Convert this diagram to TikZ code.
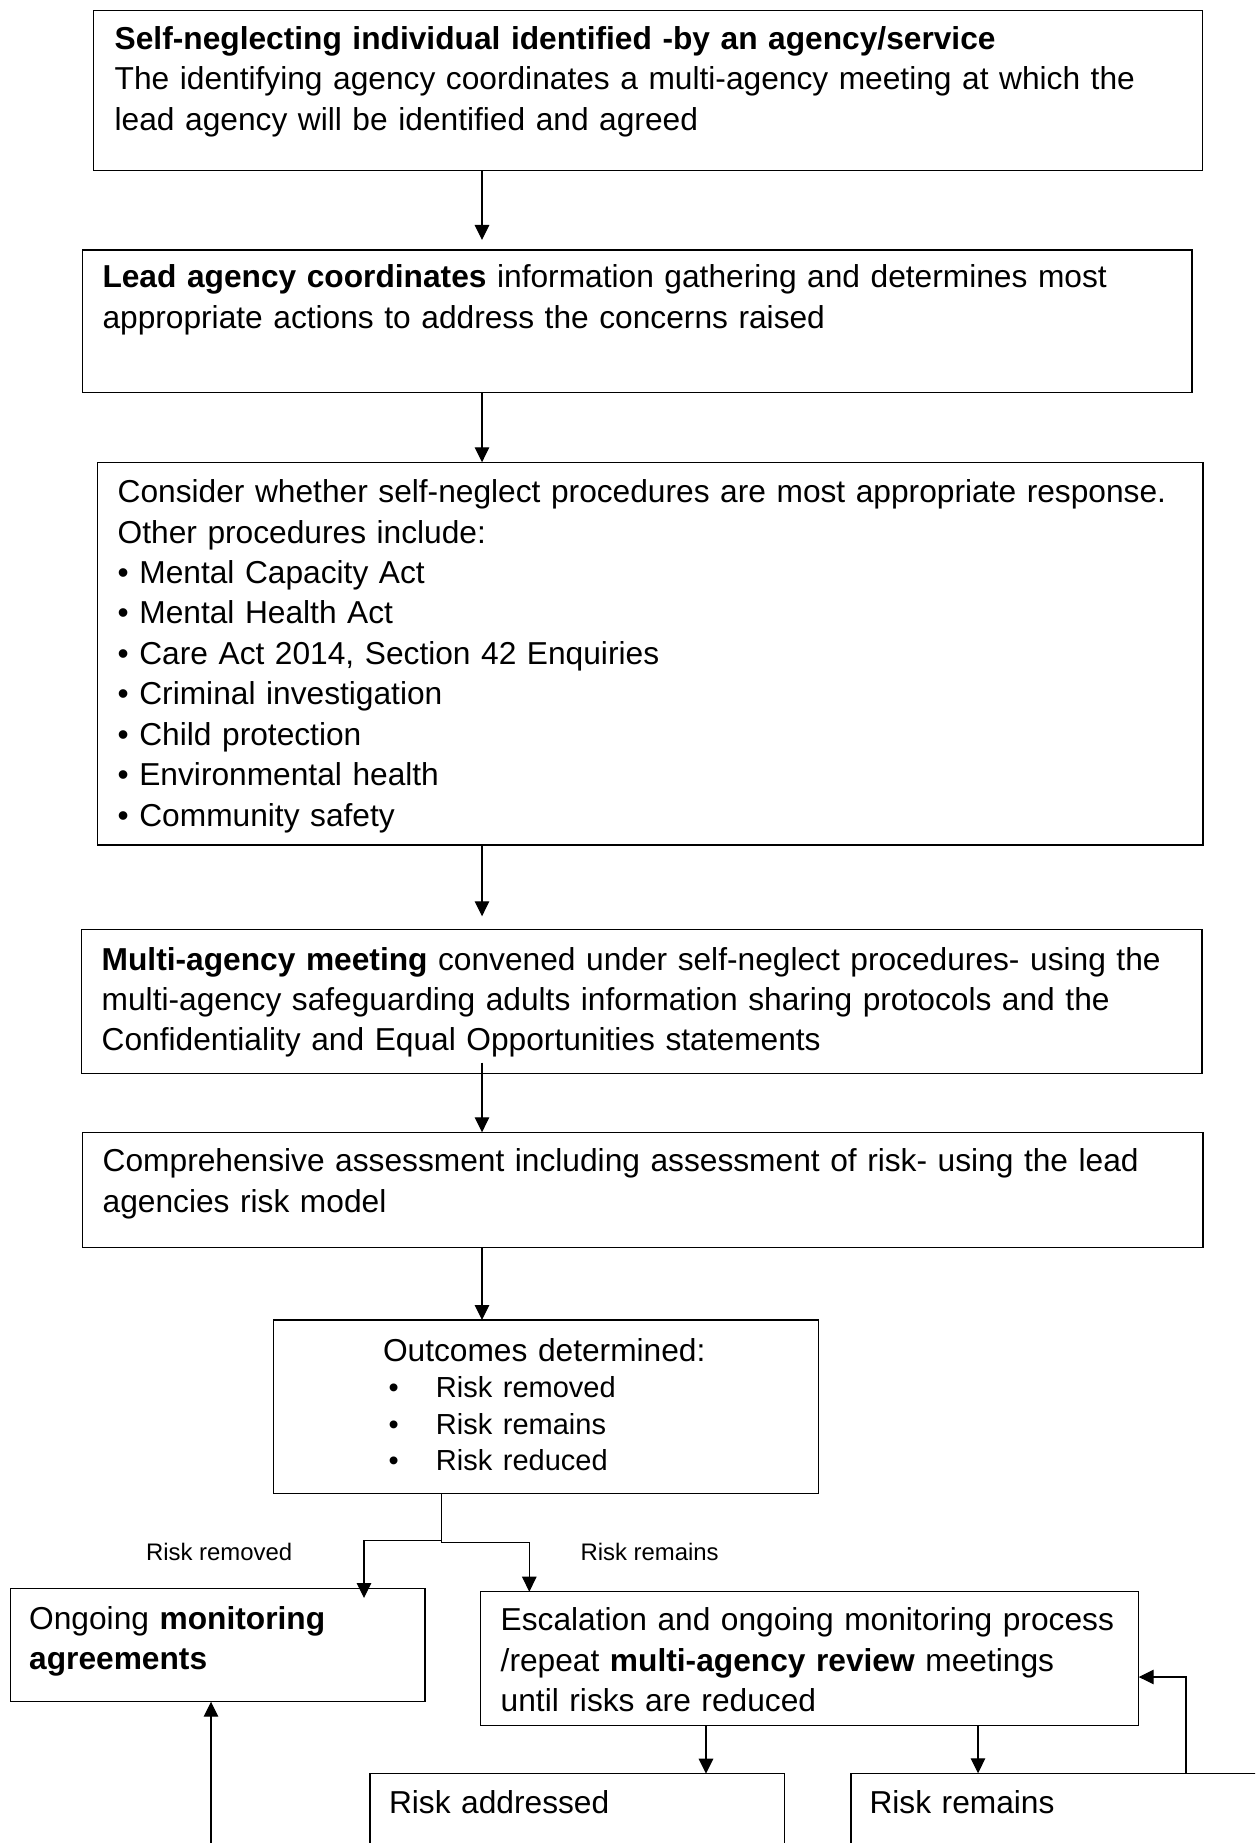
\documentclass[tikz,border=0pt]{standalone}
\usepackage{fontspec}
\setmainfont{Liberation Sans}
\usetikzlibrary{arrows.meta}

\newcommand{\bodysize}{\fontsize{9.02pt}{11.5pt}\selectfont}
\newcommand{\listsize}{\fontsize{9.02pt}{10.3pt}\selectfont}
\newcommand{\itemsize}{\fontsize{8.25pt}{10.3pt}\selectfont}
\newcommand{\tagsize}{\fontsize{6.8pt}{8pt}\selectfont}

\begin{document}
\begin{tikzpicture}[
  x=1cm, y=-1cm,
  block/.style={draw, line width=0.4pt, rectangle, anchor=north west, outer sep=0pt,
    inner xsep=0.2cm, inner ysep=0pt, align=left, font=\bodysize},
  tag/.style={anchor=base west, inner sep=0pt, font=\tagsize},
  >={Triangle[length=0.15cm, width=0.145cm]}, line width=0.35pt
]
\clip (0,0) rectangle (12.55,18.43);

% Main chain, top to bottom
\node[block, text width=10.669cm, text height=0.386cm, text depth=1.214cm, inner xsep=0.21cm]
  (ident) at (0.937,0.107)
  {\textbf{Self-neglecting individual identified -by an agency/service}\\
   The identifying agency coordinates a multi-agency meeting at which the\\
   lead agency will be identified and agreed};
\node[block, text width=10.695cm, text height=0.38cm, text depth=1.043cm]
  (lead) at (0.825,2.50)
  {\textbf{Lead agency coordinates} information gathering and determines most\\
   appropriate actions to address the concerns raised};
\node[block, text width=10.653cm, text height=0.404cm, text depth=3.423cm]
  (consider) at (0.977,4.623)
  {Consider whether self-neglect procedures are most appropriate response.\\
   Other procedures include:\\
   • Mental Capacity Act\\
   • Mental Health Act\\
   • Care Act 2014, Section 42 Enquiries\\
   • Criminal investigation\\
   • Child protection\\
   • Environmental health\\
   • Community safety};
\node[block, text width=10.803cm, text height=0.407cm, text depth=1.033cm]
  (meeting) at (0.817,9.293)
  {\textbf{Multi-agency meeting} convened under self-neglect procedures- using the\\
   multi-agency safeguarding adults information sharing protocols and the\\
   Confidentiality and Equal Opportunities statements};
\node[block, text width=10.803cm, text height=0.394cm, text depth=0.76cm]
  (assess) at (0.827,11.323)
  {Comprehensive assessment including assessment of risk- using the lead\\
   agencies risk model};
\node[block, text width=3.259cm, text height=0.417cm, text depth=1.316cm, inner xsep=1.093cm, font=\listsize]
  (outcome) at (2.737,13.20)
  {\mbox{Outcomes determined:}\\
   {\itemsize\makebox[0.53cm][l]{\hspace{0.056cm}•}Risk removed}\\
   {\itemsize\makebox[0.53cm][l]{\hspace{0.056cm}•}Risk remains}\\
   {\itemsize\makebox[0.53cm][l]{\hspace{0.056cm}•}Risk reduced}};

% Outcome branches
\node[block, text width=3.771cm, text height=0.403cm, text depth=0.727cm, inner xsep=0.185cm]
  (monitor) at (0.107,15.887) {Ongoing \textbf{monitoring}\\ \textbf{agreements}};
\node[block, text width=6.18cm, text height=0.39cm, text depth=0.946cm]
  (escal) at (4.807,15.917)
  {\mbox{Escalation and ongoing monitoring process}\\
   /repeat \textbf{multi-agency review} meetings\\
   until risks are reduced};
\node[block, text width=3.763cm, text height=0.396cm, text depth=1.0cm, inner xsep=0.19cm]
  (addressed) at (3.70,17.737) {Risk addressed};
\node[block, text width=4.43cm, text height=0.40cm, text depth=1.0cm, inner xsep=0.185cm]
  (remains) at (8.51,17.733) {Risk remains};

% Branch labels
\node[tag] (removedtag) at (1.455,15.60) {Risk removed};
\node[tag] (remainstag) at (5.80,15.60) {Risk remains};

% Connector columns
\coordinate (spine) at (4.82,0);
\coordinate (split) at (4.413,0);
\coordinate (leftdrop) at (3.64,0);
\coordinate (rightdrop) at (5.293,0);
\coordinate (addrdrop) at (7.06,0);
\coordinate (remdrop) at (9.78,0);
\coordinate (loopback) at (11.86,0);
\coordinate (uplink) at (2.11,18.43);

% Connections
\draw[->] (ident.south -| spine) -- ([yshift=0.10cm]lead.north -| spine);
\draw[->] (lead.south -| spine) -- (consider.north -| spine);
\draw[->] (consider.south -| spine) -- ([yshift=0.13cm]meeting.north -| spine);
\draw[->] ([yshift=0.106cm]meeting.south -| spine) -- (assess.north -| spine);
\draw[->] (assess.south -| spine) -- (outcome.north -| spine);

\draw[->] (outcome.south -| split) -- ++(0,0.475) -| ([yshift=-0.093cm]monitor.north -| leftdrop);
\draw[->] (outcome.south -| split) -- ++(0,0.495) -| (escal.north -| rightdrop);

\draw[->] (escal.south -| addrdrop) -- (addressed.north -| addrdrop);
\draw[->] (escal.south -| remdrop) -- (remains.north -| remdrop);

% Loop back and monitoring feed
\draw[->] (remains.north -| loopback) |- ([yshift=-0.185cm]escal.east);
\draw[->] (uplink) -- (monitor.south -| uplink);

\end{tikzpicture}
\end{document}
